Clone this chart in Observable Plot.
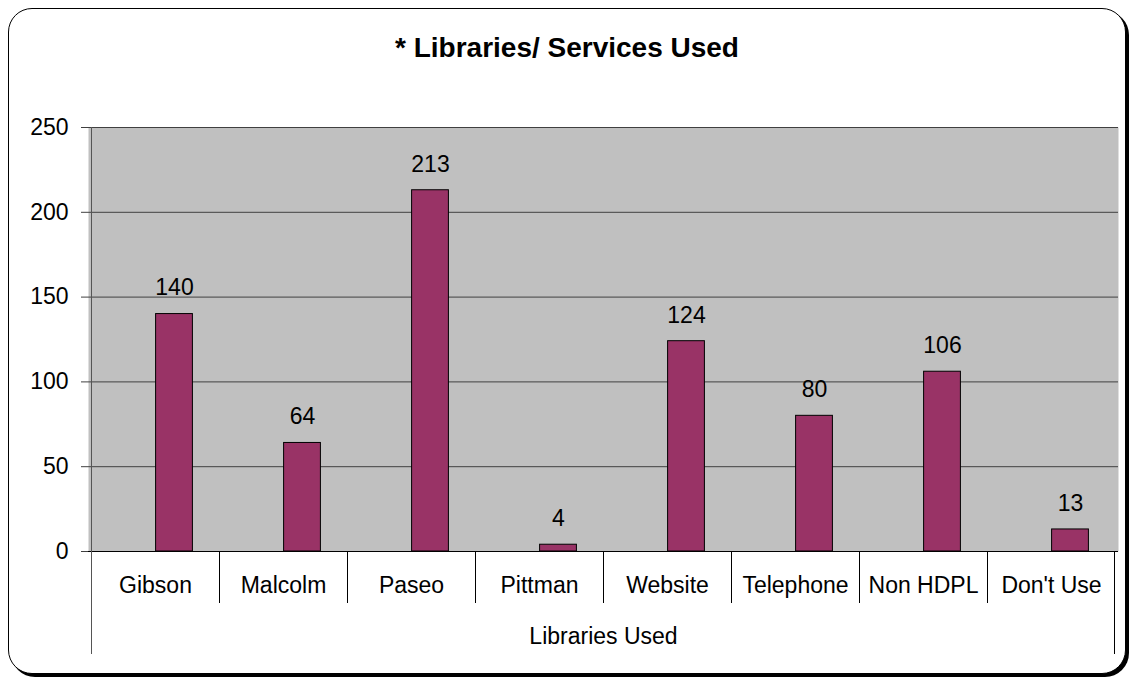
<!DOCTYPE html>
<html>
<head>
<meta charset="utf-8">
<script src="https://cdn.jsdelivr.net/npm/d3@7"></script>
<script src="https://cdn.jsdelivr.net/npm/@observablehq/plot@0.6"></script>
<style>
  html, body { margin: 0; padding: 0; background: #fff; }
  #wrap { position: relative; width: 1133px; height: 679px; font-family: Arial, "Liberation Sans", sans-serif; }
  #box { position: absolute; left: 8px; top: 8px; width: 1118px; height: 666px; border: 1px solid #000; border-radius: 24px; box-shadow: 3px 3px 0 #000; box-sizing: border-box; background: #fff; }
  #title { position: absolute; left: 8px; width: 1118px; top: 32px; text-align: center; font-weight: bold; font-size: 28px; line-height: 32px; }
  #chart { position: absolute; left: 0; top: 0; }
</style>
</head>
<body>
<div id="wrap">
  <div id="box"></div>
  <div id="title"></div>
  <div id="chart"></div>
</div>
<script>
const title = "* Libraries/ Services Used";
const groupLabel = "Libraries Used";
const categories = ["Gibson", "Malcolm", "Paseo", "Pittman", "Website", "Telephone", "Non HDPL", "Don't Use"];
const values = [140, 64, 213, 4, 124, 80, 106, 13];
const yTicks = [0, 50, 100, 150, 200, 250];

document.getElementById("title").textContent = title;

const data = categories.map((c, i) => ({category: c, value: values[i]}));

const plot = Plot.plot({
  width: 1133,
  height: 679,
  marginTop: 127,
  marginBottom: 128,
  marginLeft: 88,
  marginRight: 15,
  style: {fontFamily: "Arial, 'Liberation Sans', sans-serif", fontSize: "23px", background: "transparent", overflow: "visible"},
  x: {domain: categories, padding: 0, label: null},
  y: {domain: [0, 250], label: null},
  marks: [
    Plot.frame({fill: "#c0c0c0", stroke: null}),
    Plot.ruleY(yTicks.filter(d => d > 0), {stroke: "#404040", strokeWidth: 1}),
    Plot.barY(data, {x: "category", y: "value", fill: "#993366", stroke: "#000", strokeWidth: 1, insetLeft: 64.6, insetRight: 26.6}),
    Plot.text(data, {x: "category", y: "value", text: d => String(d.value), dx: 19, dy: -26, fontSize: 23, fill: "#000"}),
    Plot.ruleY([0], {stroke: "#000", strokeWidth: 1}),
    Plot.axisX({tickSize: 0, tickPadding: 25, fontSize: 23, label: null}),
    Plot.axisY({ticks: yTicks, tickSize: 7, tickPadding: 13, fontSize: 23, label: null, stroke: "#404040"}),
    Plot.text([groupLabel], {frameAnchor: "bottom", dy: 92, fontSize: 23, fill: "#000"})
  ]
});

document.getElementById("chart").appendChild(plot);

// category separators and axis lines, positioned with Plot's scales
const xs = plot.scale("x");
const ys = plot.scale("y");
const y0 = ys.apply(0);
const yTop = ys.apply(250);
const g = d3.select(plot).append("g").attr("stroke", "#000").attr("stroke-width", 1);
categories.slice(1).forEach(c => {
  const x = Math.round(xs.apply(c)) + 0.5;
  g.append("line").attr("x1", x).attr("x2", x).attr("y1", y0).attr("y2", y0 + 52);
});
const xLeft = Math.round(xs.apply(categories[0])) + 0.5;
const xRight = Math.round(xs.apply(categories[categories.length - 1]) + xs.bandwidth) - 0.5;
g.append("line").attr("x1", xRight).attr("x2", xRight).attr("y1", y0).attr("y2", y0 + 103);
g.append("line").attr("x1", xLeft).attr("x2", xLeft).attr("y1", yTop).attr("y2", y0 + 103).attr("stroke", "#555");
</script>
</body>
</html>
